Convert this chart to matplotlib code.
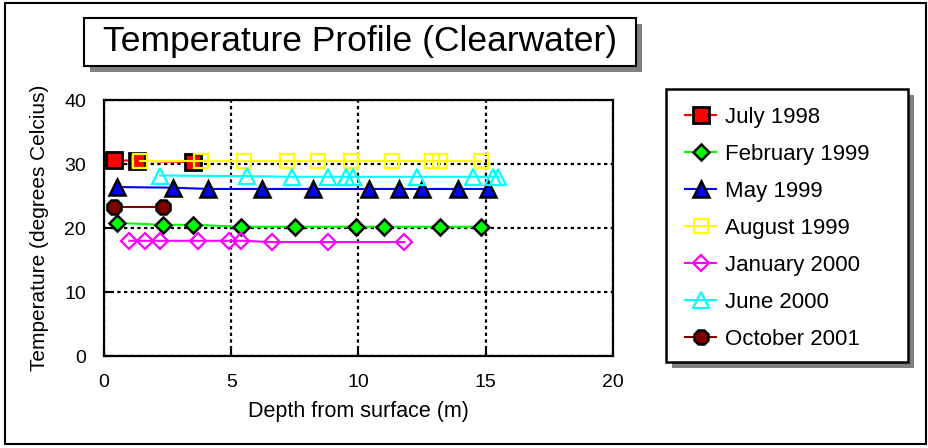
import matplotlib.pyplot as plt
from matplotlib.patches import Rectangle

plt.rcParams['font.family'] = ['Liberation Sans', 'DejaVu Sans']

# depth (m) and temperature (deg C) per sampling date
jul98_depth = [0.4, 1.3, 3.5]
jul98_temp = [30.6, 30.5, 30.3]

feb99_depth = [0.5, 2.3, 3.5, 5.4, 7.5, 9.9, 11.0, 13.2, 14.8]
feb99_temp = [20.8, 20.5, 20.5, 20.2, 20.2, 20.2, 20.2, 20.2, 20.2]

may99_depth = [0.5, 2.7, 4.1, 6.2, 8.2, 10.4, 11.6, 12.5, 13.9, 15.1]
may99_temp = [26.4, 26.3, 26.1, 26.1, 26.1, 26.1, 26.1, 26.1, 26.1, 26.1]

aug99_depth = [1.4, 3.8, 5.5, 7.2, 8.4, 9.7, 11.3, 12.9, 13.2, 14.8]
aug99_temp = [30.5, 30.5, 30.5, 30.5, 30.5, 30.5, 30.5, 30.5, 30.5, 30.5]

jan00_depth = [1.0, 1.6, 2.2, 3.7, 4.9, 5.4, 6.6, 8.8, 11.8]
jan00_temp = [18.0, 18.0, 18.0, 18.0, 18.0, 18.0, 17.8, 17.8, 17.8]

jun00_depth = [2.2, 5.6, 7.4, 8.8, 9.5, 9.8, 12.3, 14.5, 15.3, 15.5]
jun00_temp = [28.2, 28.1, 28.0, 28.0, 28.0, 28.0, 28.0, 28.0, 28.0, 28.0]

oct01_depth = [0.4, 2.3]
oct01_temp = [23.3, 23.3]

W, H = 929, 448
fig = plt.figure(figsize=(W / 100, H / 100), dpi=100)


def box(x0, y0, w, h, **kw):
    # rectangle in pixel units measured from the top-left corner
    r = Rectangle((x0 / W, (H - y0 - h) / H), w / W, h / H, transform=fig.transFigure, zorder=-1, **kw)
    fig.patches.append(r)


# outer frame
box(5, 3, 921, 441, fill=False, edgecolor='black', lw=1.5)

ax = fig.add_axes([104 / W, 92 / H, 509 / W, 256 / H])

ax.grid(True, color='black', linestyle=(0, (1.5, 1.5)), lw=1.6, zorder=0)
ax.set_axisbelow(True)

ax.plot(jul98_depth, jul98_temp, color='red', lw=1.5, marker='s', ms=11.5,
        mfc='red', mec='black', mew=2, label='July 1998')
ax.plot(feb99_depth, feb99_temp, color='#00ff00', lw=1.5, marker='D', ms=8.5,
        mfc='#00ff00', mec='black', mew=1.8, label='February 1999')
ax.plot(may99_depth, may99_temp, color='blue', lw=1.5, marker='^', ms=12,
        mfc='blue', mec='black', mew=1.8, label='May 1999')
ax.plot(aug99_depth, aug99_temp, color='#ffff00', lw=1.5, marker='s', ms=10,
        mfc='none', mec='#ffff00', mew=1.6, label='August 1999')
ax.plot(jan00_depth, jan00_temp, color='#ff00ff', lw=1.5, marker='D', ms=8.5,
        mfc='none', mec='#ff00ff', mew=1.6, label='January 2000')
ax.plot(jun00_depth, jun00_temp, color='#00ffff', lw=1.5, marker='^', ms=11,
        mfc='none', mec='#00ffff', mew=1.6, label='June 2000')
ax.plot(oct01_depth, oct01_temp, color='#800000', lw=1.5, marker='8', ms=11.5,
        mfc='#800000', mec='black', mew=1.8, label='October 2001')

ax.set_xlim(0, 20)
ax.set_ylim(0, 40)
ax.set_xticks([0, 5, 10, 15, 20])
ax.set_yticks([0, 10, 20, 30, 40])
ax.tick_params(direction='in', length=5, width=1.5, labelsize=14, pad=13)
for s in ax.spines.values():
    s.set_linewidth(1.6)

ax.set_xlabel('Depth from surface (m)', fontsize=15.5, labelpad=7)
ax.set_ylabel('Temperature (degrees Celcius)', fontsize=15, labelpad=11)

# title box with drop shadow
box(90, 24, 552, 48, facecolor='#808080', edgecolor='none')
box(84, 18, 552, 48, facecolor='white', edgecolor='black', lw=1.5)
fig.text(360 / W, (H - 42) / H, 'Temperature Profile (Clearwater)', fontsize=25.5,
         ha='center', va='center')

# legend box with drop shadow
box(672, 95, 242, 273, facecolor='#808080', edgecolor='none')
box(666, 89, 242, 273, facecolor='white', edgecolor='black', lw=1.8)
handles, labels = ax.get_legend_handles_labels()
fig.legend(handles, labels, loc='upper left', bbox_to_anchor=(685 / W, (H - 107) / H),
           frameon=False, fontsize=16, handlelength=1.4, handletextpad=0.4,
           labelspacing=0.72, borderpad=0, borderaxespad=0)

fig.savefig('out.png', dpi=100)
